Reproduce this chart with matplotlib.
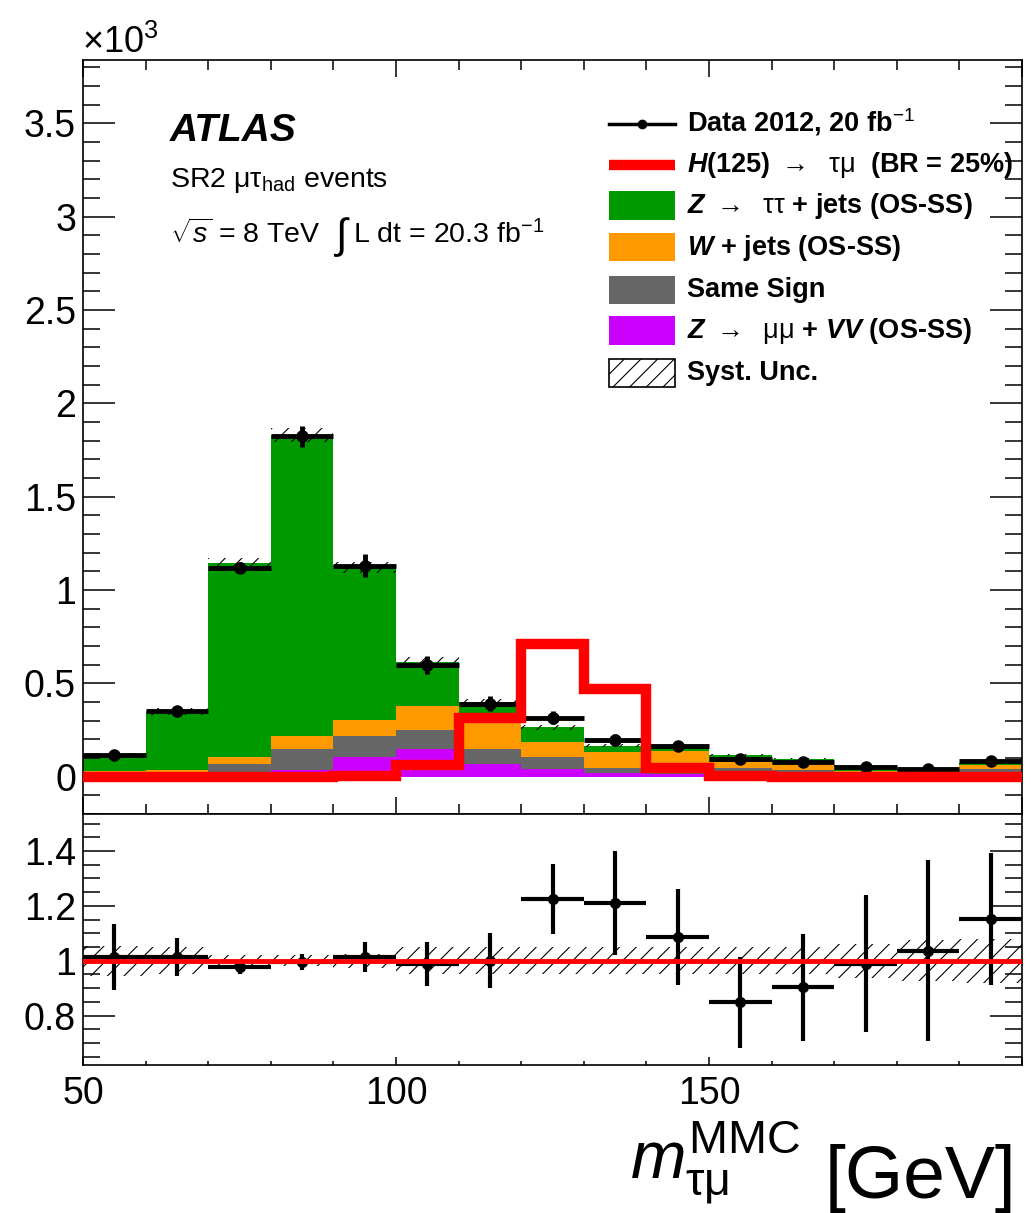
import numpy as np
import matplotlib
matplotlib.use("Agg")
import matplotlib.pyplot as plt
from matplotlib.patches import Rectangle
from matplotlib.lines import Line2D
from matplotlib.ticker import MultipleLocator, FuncFormatter

plt.rcParams['font.family'] = ['Liberation Sans', 'DejaVu Sans']
plt.rcParams['mathtext.fontset'] = 'custom'
plt.rcParams['mathtext.rm'] = 'Liberation Sans'
plt.rcParams['mathtext.it'] = 'Liberation Sans:italic'
plt.rcParams['mathtext.bf'] = 'Liberation Sans:bold'
plt.rcParams['mathtext.bfit'] = 'Liberation Sans:bold:italic'
plt.rcParams['hatch.linewidth'] = 0.8

# binning of m_tau_mu (GeV)
bin_edges = [50, 60, 70, 80, 90, 100, 110, 120, 130, 140, 150, 160, 170, 180, 190, 200]

# event counts per bin, in units of 10^3
ztt = [0.086, 0.315, 1.044, 1.611, 0.815, 0.232, 0.108, 0.077, 0.035, 0.017, 0.035, 0.030, 0.027, 0.012, 0.013]
wjets = [0.012, 0.012, 0.036, 0.072, 0.086, 0.130, 0.143, 0.084, 0.081, 0.117, 0.031, 0.032, 0.011, 0.012, 0.022]
same_sign = [0.015, 0.018, 0.057, 0.112, 0.113, 0.103, 0.080, 0.063, 0.027, 0.010, 0.039, 0.027, 0.015, 0.012, 0.035]
zmumu_vv = [0.005, 0.005, 0.010, 0.035, 0.106, 0.147, 0.067, 0.040, 0.022, 0.012, 0.010, 0.008, 0.005, 0.004, 0.005]
signal = [0.0, 0.0, 0.0, 0.0, 0.003, 0.065, 0.315, 0.710, 0.469, 0.049, 0.002, 0.0, 0.0, 0.0, 0.0]
data = [0.117, 0.350, 1.120, 1.824, 1.130, 0.600, 0.392, 0.317, 0.196, 0.165, 0.094, 0.076, 0.050, 0.040, 0.085]

# data / background
ratio = [1.013, 1.013, 0.976, 0.995, 1.013, 0.989, 1.000, 1.226, 1.210, 1.086, 0.848, 0.903, 0.989, 1.037, 1.153]
ratio_err = [0.12, 0.07, 0.025, 0.03, 0.055, 0.08, 0.10, 0.128, 0.19, 0.175, 0.165, 0.195, 0.25, 0.33, 0.24]
syst_rel = [0.055, 0.05, 0.022, 0.02, 0.025, 0.05, 0.05, 0.05, 0.05, 0.05, 0.05, 0.05, 0.062, 0.075, 0.08]

W, H = 1031, 1213


def fx(px):
    return px / W


def fy(py):
    return 1 - py / H


fig = plt.figure(figsize=(W / 100, H / 100), dpi=100)
ax = fig.add_axes([fx(83), fy(814), fx(1022) - fx(83), fy(60) - fy(814)])
rax = fig.add_axes([fx(83), fy(1065), fx(1022) - fx(83), fy(814) - fy(1065)], sharex=ax)

edges = np.array(bin_edges, dtype=float)
centers = 0.5 * (edges[:-1] + edges[1:])
half = 0.5 * np.diff(edges)

# stacked backgrounds, bottom to top
base = np.zeros(len(centers))
for vals, col in [(zmumu_vv, '#cc00ff'), (same_sign, '#666666'), (wjets, '#ff9900'), (ztt, '#009900')]:
    vals = np.array(vals)
    ax.stairs(base + vals, edges, baseline=base, fill=True, color=col, lw=0, zorder=1)
    base = base + vals
total = base

syst = total * np.array(syst_rel)
ax.bar(centers, 2 * syst, width=np.diff(edges), bottom=total - syst, fill=False,
       hatch='//', edgecolor='black', lw=0, zorder=2)

data = np.array(data)
ratio = np.array(ratio)
ratio_err = np.array(ratio_err)
data_err = data * ratio_err / ratio
ax.errorbar(centers, data, xerr=half, yerr=data_err, fmt='o', color='black', ms=8,
            elinewidth=3.5, capsize=0, zorder=4)

sig = ax.stairs(signal, edges, baseline=None, color='red', lw=7.5, zorder=5)
sig.set_joinstyle('miter')

ax.set_xlim(50, 200)
ax.set_ylim(-0.2, 3.84)
fmt = FuncFormatter(lambda v, p: '%g' % v)
xfmt = FuncFormatter(lambda v, p: '' if v >= 200 else '%g' % v)
ax.yaxis.set_major_locator(MultipleLocator(0.5))
ax.yaxis.set_minor_locator(MultipleLocator(0.1))
ax.yaxis.set_major_formatter(fmt)
ax.xaxis.set_major_locator(MultipleLocator(50))
ax.xaxis.set_minor_locator(MultipleLocator(10))
ax.tick_params(which='both', direction='in', top=True, right=True, width=1.1, labelbottom=False)
ax.tick_params(axis='y', which='major', length=23, labelsize=27, pad=5)
ax.tick_params(axis='y', which='minor', length=12)
ax.tick_params(axis='x', which='major', length=12)
ax.tick_params(axis='x', which='minor', length=7)

# ratio panel
syst_rel = np.array(syst_rel)
rax.bar(centers, 2 * syst_rel, width=np.diff(edges), bottom=1 - syst_rel, fill=False,
        hatch='//', edgecolor='black', lw=0, zorder=1)
rax.errorbar(centers, ratio, xerr=half, yerr=ratio_err, fmt='o', color='black', ms=7,
             elinewidth=3, capsize=0, zorder=3)
rax.axhline(1, color='red', lw=3.5, zorder=4)

rax.set_ylim(0.62, 1.535)
rax.yaxis.set_major_locator(MultipleLocator(0.2))
rax.yaxis.set_minor_locator(MultipleLocator(0.05))
rax.yaxis.set_major_formatter(fmt)
rax.xaxis.set_major_formatter(xfmt)
rax.tick_params(which='both', direction='in', right=True, top=False, width=1.1)
rax.tick_params(axis='y', which='major', length=23, labelsize=27, pad=5)
rax.tick_params(axis='y', which='minor', length=12)
rax.tick_params(axis='x', which='major', length=6, labelsize=27, pad=8)
rax.tick_params(axis='x', which='minor', length=3)

for a in (ax, rax):
    for s in a.spines.values():
        s.set_linewidth(1.2)

# labels
fig.text(fx(82), fy(53), r'$\times$10$^{3}$', fontsize=26, va='baseline')
fig.text(fx(800), fy(1178), r'$m_{\mathrm{\tau\mu}}^{\mathrm{MMC}}$', fontsize=48,
         ha='right', va='baseline')
fig.text(fx(1016), fy(1198), '[GeV]', fontsize=54, ha='right', va='baseline')
fig.text(fx(170), fy(141), 'ATLAS', fontsize=28, fontweight='bold', style='italic', va='baseline')
fig.text(fx(170), fy(187), r'SR2 $\mathrm{\mu\tau}_{\mathrm{had}}$ events', fontsize=20.5, va='baseline')
fig.text(fx(170), fy(243), r'$\sqrt{s}$ = 8 TeV', fontsize=20.5, va='baseline')
fig.text(fx(334), fy(248), r'$\int$', fontsize=30, va='baseline')
fig.text(fx(353), fy(243), r'L dt = 20.3 fb$^{-1}$', fontsize=20.5, va='baseline')

# legend
leg_rows = [131, 172, 213, 255, 297, 338, 380]
leg_labels = [
    r'Data 2012, 20 fb$^{-1}$',
    r'$\mathbfit{H}$(125) $\rightarrow$  $\mathrm{\tau\mu}$  (BR = 25%)',
    r'$\mathbfit{Z}$ $\rightarrow$  $\mathrm{\tau\tau}$ + jets (OS-SS)',
    r'$\mathbfit{W}$ + jets (OS-SS)',
    'Same Sign',
    r'$\mathbfit{Z}$ $\rightarrow$  $\mathrm{\mu\mu}$ + $\mathbfit{VV}$ (OS-SS)',
    'Syst. Unc.',
]
box_x0, box_x1 = 609, 675
for yb, lab in zip(leg_rows, leg_labels):
    fig.text(fx(687), fy(yb), lab, fontsize=19.5, fontweight='bold', va='baseline')

yc = leg_rows[0] - 7.5
fig.add_artist(Line2D([fx(box_x0), fx(box_x1)], [fy(yc), fy(yc)], color='black', lw=2.5,
                      transform=fig.transFigure))
fig.add_artist(Line2D([fx(642)], [fy(yc)], marker='o', ms=6, color='black',
                      transform=fig.transFigure))
yc = leg_rows[1] - 7
fig.add_artist(Line2D([fx(box_x0), fx(box_x1)], [fy(yc), fy(yc)], color='red', lw=7.5,
                      solid_capstyle='butt', transform=fig.transFigure))
for yb, col in zip(leg_rows[2:6], ['#009900', '#ff9900', '#666666', '#cc00ff']):
    fig.add_artist(Rectangle((fx(box_x0), fy(yb + 6.5)), fx(box_x1) - fx(box_x0),
                             fy(yb - 21.5) - fy(yb + 6.5), facecolor=col, edgecolor='none',
                             transform=fig.transFigure))
yb = leg_rows[6]
fig.add_artist(Rectangle((fx(box_x0), fy(yb + 6.5)), fx(box_x1) - fx(box_x0),
                         fy(yb - 21.5) - fy(yb + 6.5), fill=False, hatch='//',
                         edgecolor='black', lw=1.2, transform=fig.transFigure))

fig.savefig('out.png', dpi=100)
